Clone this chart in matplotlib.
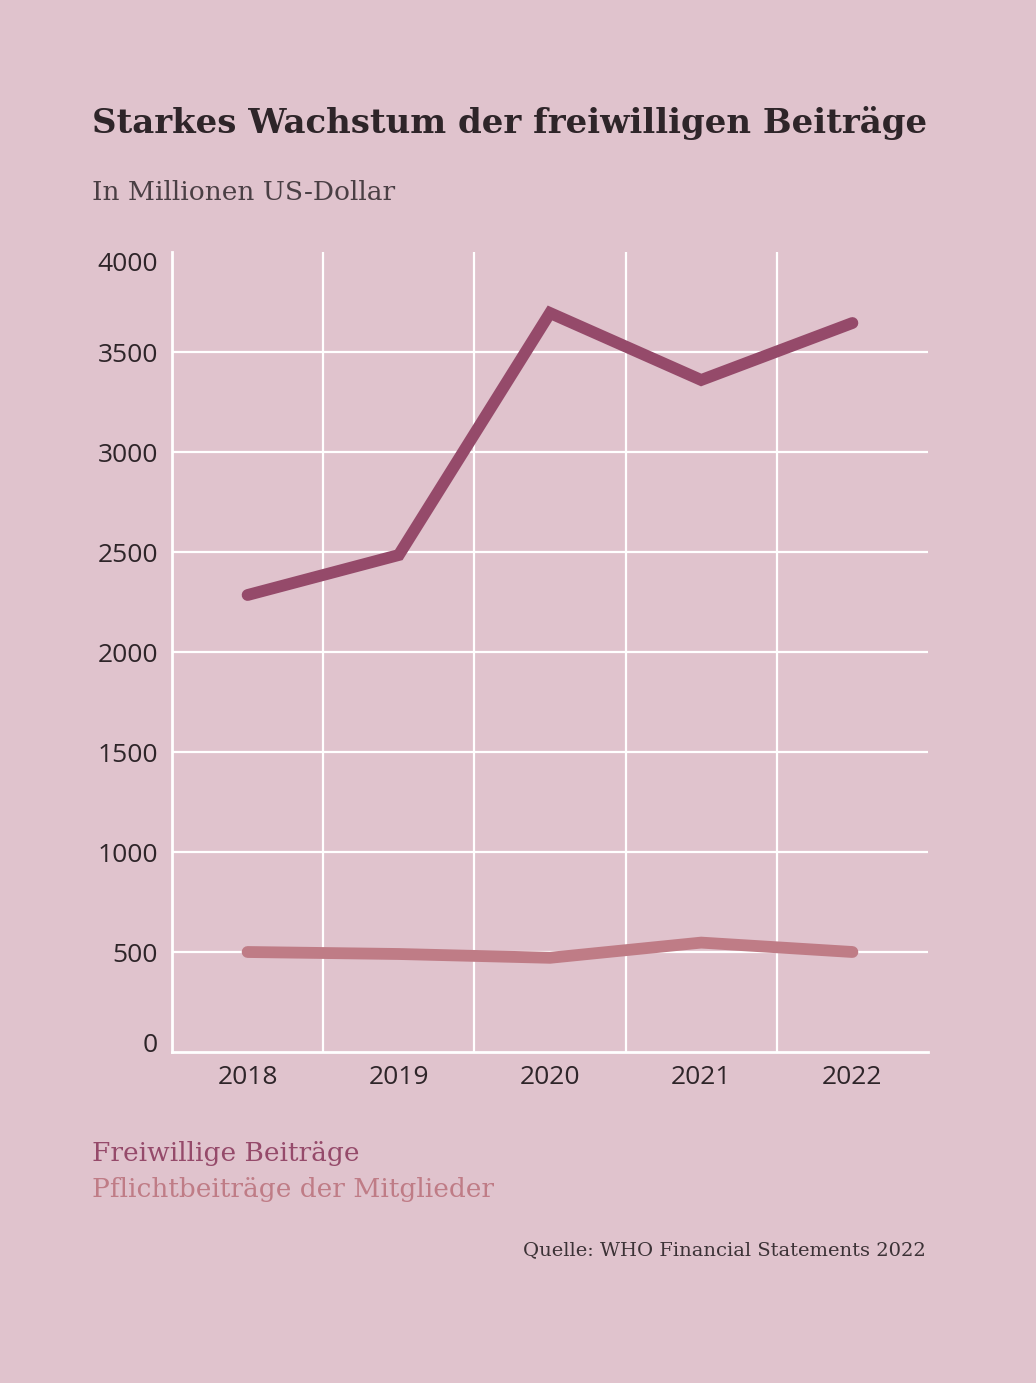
import numpy as np
import matplotlib
matplotlib.use("Agg")
import matplotlib.pyplot as plt

# data (Mio. US-Dollar)
years = ["2018", "2019", "2020", "2021", "2022"]
freiwillig = [2285, 2485, 3695, 3360, 3645]
pflicht = [500, 490, 471, 547, 500]
yticks = [0, 500, 1000, 1500, 2000, 2500, 3000, 3500, 4000]

bg = "#e0c3cd"
dark = "#954a6a"
light = "#bf7c86"
txt = "#2e2529"

fig = plt.figure(figsize=(10.36, 13.83), dpi=100)
fig.patch.set_facecolor(bg)

W, H = 1036, 1383
ax = fig.add_axes([172 / W, 1 - 1052 / H, (928 - 172) / W, (1052 - 252) / H])
ax.set_facecolor(bg)

x = np.arange(len(years))
ax.plot(x, freiwillig, color=dark, lw=8.5, solid_capstyle="round",
        solid_joinstyle="miter", zorder=3)
ax.plot(x, pflicht, color=light, lw=8.5, solid_capstyle="round",
        solid_joinstyle="miter", zorder=3)

ax.set_xlim(-0.5, 4.5)
ax.set_ylim(0, 4000)

# grid
for y in yticks[1:-1]:
    ax.axhline(y, color="white", lw=1.6, zorder=1)
for xv in [0.5, 1.5, 2.5, 3.5]:
    ax.axvline(xv, color="white", lw=1.6, zorder=1)

for s in ["top", "right"]:
    ax.spines[s].set_visible(False)
for s in ["left", "bottom"]:
    ax.spines[s].set_color("white")
    ax.spines[s].set_linewidth(2)

ax.set_xticks(x)
ax.set_xticklabels(years, fontfamily="Open Sans", fontweight="medium",
                   fontsize=19, color=txt)
ax.set_yticks(yticks)
ax.set_yticklabels([str(v) for v in yticks], fontfamily="Open Sans",
                   fontweight="medium", fontsize=19, color=txt)
ax.tick_params(axis="y", length=0, pad=10)
ax.tick_params(axis="x", length=0, pad=9)
labs = ax.get_yticklabels()
labs[0].set_va("baseline")
labs[-1].set_va("top")

fig.text(92 / W, 1 - 123 / H, "Starkes Wachstum der freiwilligen Beiträge",
         fontfamily="DejaVu Serif", fontweight="bold", fontsize=24.5,
         color=txt, va="center", ha="left")
fig.text(92 / W, 1 - 192 / H, "In Millionen US-Dollar",
         fontfamily="DejaVu Serif", fontsize=19, color="#4a3f44",
         va="center", ha="left")

fig.text(92 / W, 1 - 1153 / H, "Freiwillige Beiträge",
         fontfamily="DejaVu Serif", fontsize=19, color=dark,
         va="center", ha="left")
fig.text(92 / W, 1 - 1190 / H, "Pflichtbeiträge der Mitglieder",
         fontfamily="DejaVu Serif", fontsize=19, color=light,
         va="center", ha="left")

fig.text(926 / W, 1 - 1250 / H, "Quelle: WHO Financial Statements 2022",
         fontfamily="DejaVu Serif", fontsize=14, color="#3c3236",
         va="center", ha="right")

fig.savefig("out.png", dpi=100, facecolor=bg)
